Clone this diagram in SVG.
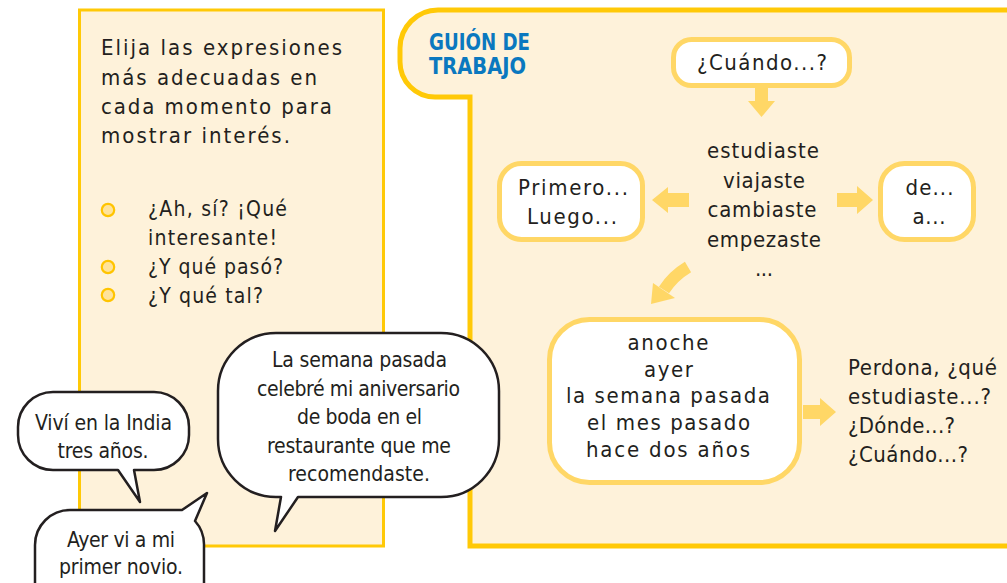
<svg xmlns="http://www.w3.org/2000/svg" width="1007" height="583" viewBox="0 0 1007 583">
<style>
  .panel { fill: #FEF2DA; stroke: #FFC907; }
  .box { fill: #FFFFFF; stroke: #FFD766; stroke-width: 5; }
  .arrow { fill: #FFD766; stroke: none; }
  .bubble { fill: #FFFFFF; stroke: #231F20; stroke-width: 2.5; stroke-linejoin: round; }
  .bullet { fill: #FFE39A; stroke: #FFC400; stroke-width: 2.2; }
  text { font-family: "DejaVu Sans Condensed", "Liberation Sans Narrow", "Liberation Sans", sans-serif; font-stretch: condensed; fill: #231F20; }
  .t22 { font-size: 22px; }
  .t21 { font-size: 21px; }
  .mid { text-anchor: middle; }
  .blue { font-family: "Liberation Sans Narrow", "DejaVu Sans Condensed", "Liberation Sans", sans-serif; font-weight: bold; font-size: 23px; fill: #0A78BF; }
</style>

<!-- Left panel -->
<g id="left-panel">
  <rect class="panel" x="79.5" y="10" width="304" height="536" stroke-width="3"/>
  <text class="t22" x="101" y="55" textLength="241" lengthAdjust="spacing">Elija las expresiones</text>
  <text class="t22" x="101" y="84.5" textLength="216" lengthAdjust="spacing">más adecuadas en</text>
  <text class="t22" x="101" y="113.5" textLength="231" lengthAdjust="spacing">cada momento para</text>
  <text class="t22" x="101" y="143" textLength="189" lengthAdjust="spacing">mostrar interés.</text>
  <circle class="bullet" cx="108" cy="210" r="6.2"/>
  <circle class="bullet" cx="108" cy="267" r="6.2"/>
  <circle class="bullet" cx="108" cy="295" r="6.2"/>
  <text class="t21" x="148" y="216" textLength="139" lengthAdjust="spacing">¿Ah, sí? ¡Qué</text>
  <text class="t21" x="148" y="245" textLength="129" lengthAdjust="spacing">interesante!</text>
  <text class="t21" x="148" y="274" textLength="135" lengthAdjust="spacing">¿Y qué pasó?</text>
  <text class="t21" x="148" y="303" textLength="115" lengthAdjust="spacing">¿Y qué tal?</text>
</g>

<!-- Right panel -->
<g id="right-panel">
  <path class="panel" stroke-width="5" d="M 1015 10 L 438 10 A 38 38 0 0 0 400 48 L 400 62 A 35 35 0 0 0 435 97 L 470 97 L 470 546 L 1015 546 Z"/>
  <text class="blue" x="429" y="50" textLength="101" lengthAdjust="spacingAndGlyphs">GUIÓN DE</text>
  <text class="blue" x="429" y="74" textLength="97" lengthAdjust="spacingAndGlyphs">TRABAJO</text>
</g>

<g id="node-cuando">
  <rect class="box" x="673.5" y="39.5" width="176" height="46" rx="18"/>
  <text class="t22 mid" x="762" y="70" textLength="130" lengthAdjust="spacing">¿Cuándo...?</text>
</g>

<g id="node-verbos">
  <text class="t22 mid" x="763" y="158" textLength="112" lengthAdjust="spacing">estudiaste</text>
  <text class="t22 mid" x="764" y="187.5" textLength="82" lengthAdjust="spacing">viajaste</text>
  <text class="t22 mid" x="762" y="217" textLength="109" lengthAdjust="spacing">cambiaste</text>
  <text class="t22 mid" x="764" y="246.5" textLength="114" lengthAdjust="spacing">empezaste</text>
  <text class="t22 mid" x="764" y="276" textLength="18" lengthAdjust="spacing">...</text>
</g>

<g id="node-primero">
  <rect class="box" x="499.5" y="163.5" width="143" height="76" rx="22"/>
  <text class="t22 mid" x="573" y="195" textLength="110" lengthAdjust="spacing">Primero...</text>
  <text class="t22 mid" x="572" y="224" textLength="90" lengthAdjust="spacing">Luego...</text>
</g>

<g id="node-de">
  <rect class="box" x="880.5" y="163.5" width="93" height="76" rx="24"/>
  <text class="t22 mid" x="929.5" y="195" textLength="48" lengthAdjust="spacing">de...</text>
  <text class="t22 mid" x="929" y="224" textLength="33" lengthAdjust="spacing">a...</text>
</g>

<g id="node-anoche">
  <rect class="box" x="549.5" y="319.5" width="250" height="163" rx="40"/>
  <text class="t22 mid" x="668" y="350" textLength="81" lengthAdjust="spacing">anoche</text>
  <text class="t22 mid" x="668.5" y="377" textLength="49" lengthAdjust="spacing">ayer</text>
  <text class="t22 mid" x="668" y="403" textLength="204" lengthAdjust="spacing">la semana pasada</text>
  <text class="t22 mid" x="668.5" y="430" textLength="163" lengthAdjust="spacing">el mes pasado</text>
  <text class="t22 mid" x="668" y="457" textLength="164" lengthAdjust="spacing">hace dos años</text>
</g>

<g id="node-perdona">
  <text class="t22" x="848" y="375" textLength="149" lengthAdjust="spacing">Perdona, ¿qué</text>
  <text class="t22" x="848" y="404" textLength="143" lengthAdjust="spacing">estudiaste...?</text>
  <text class="t22" x="848" y="433" textLength="107" lengthAdjust="spacing">¿Dónde...?</text>
  <text class="t22" x="848" y="462" textLength="120" lengthAdjust="spacing">¿Cuándo...?</text>
</g>

<g id="connectors">
  <polygon class="arrow" points="755,88 768,88 768,101 775,101 761.5,117 748,101 755,101"/>
  <polygon class="arrow" points="689,193 668,193 668,187 652,200 668,213 668,207 689,207"/>
  <polygon class="arrow" points="837,193 857,193 857,186 873,200 857,214 857,207 837,207"/>
  <polygon class="arrow" points="803,405 820,405 820,398 836,412 820,426 820,419 803,419"/>
  <path d="M 688 267 Q 673 276 664 290" fill="none" stroke="#FFD766" stroke-width="12"/>
  <polygon class="arrow" points="653,283 675,298 651,304"/>
</g>

<g id="bubble-india">
  <path class="bubble" d="M 53 392 L 154 392 A 35 35 0 0 1 189 427 L 189 435 A 35 35 0 0 1 154 470 L 134 470 L 140 502 L 118 470 L 53 470 A 35 35 0 0 1 18 435 L 18 427 A 35 35 0 0 1 53 392 Z"/>
  <text class="t21 mid" x="103.5" y="430" textLength="137" lengthAdjust="spacing">Viví en la India</text>
  <text class="t21 mid" x="103" y="458" textLength="91" lengthAdjust="spacing">tres años.</text>
</g>

<g id="bubble-novio">
  <path class="bubble" d="M 70 510 L 182 510 L 207 493 L 195 521 A 35 35 0 0 1 204 545 L 204 600 L 35 600 L 35 545 A 35 35 0 0 1 70 510 Z"/>
  <text class="t21 mid" x="121" y="547" textLength="108" lengthAdjust="spacing">Ayer vi a mi</text>
  <text class="t21 mid" x="121" y="574" textLength="124" lengthAdjust="spacing">primer novio.</text>
</g>

<g id="bubble-aniversario">
  <path class="bubble" d="M 276 333 L 441 333 A 58 58 0 0 1 499 391 L 499 439 A 58 58 0 0 1 441 497 L 298 497 L 275 531 L 281 497 L 276 497 A 58 58 0 0 1 218 439 L 218 391 A 58 58 0 0 1 276 333 Z"/>
  <text class="t21 mid" x="359.5" y="367" textLength="175" lengthAdjust="spacing">La semana pasada</text>
  <text class="t21 mid" x="358.5" y="395.5" textLength="203" lengthAdjust="spacing">celebré mi aniversario</text>
  <text class="t21 mid" x="359.5" y="424" textLength="125" lengthAdjust="spacing">de boda en el</text>
  <text class="t21 mid" x="359" y="452.5" textLength="184" lengthAdjust="spacing">restaurante que me</text>
  <text class="t21 mid" x="359" y="481" textLength="142" lengthAdjust="spacing">recomendaste.</text>
</g>
</svg>
